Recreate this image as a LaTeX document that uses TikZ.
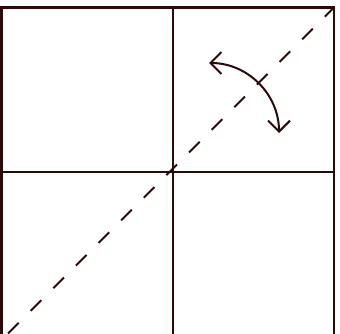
\documentclass[tikz,border=0pt]{standalone}
\usetikzlibrary{arrows.meta}
\definecolor{inkbrown}{RGB}{43,10,10}

\begin{document}
\begin{tikzpicture}[x=1pt,y=1pt,line width=2.2pt,draw=inkbrown,
  fold/.style={line width=2pt,dash pattern=on 15pt off 17pt,dash phase=2pt},
  flip/.style={line width=2pt,{Straight Barb[length=11pt,width=22pt]}-{Straight Barb[length=11pt,width=22pt]}}]
\useasboundingbox (0,0) rectangle (340,333);
\clip (0,0) rectangle (340,333);
% square sheet, cut at the bottom
\coordinate (tl) at (1.5,325.5);
\coordinate (tr) at (334,325.5);
\coordinate (bl) at (1.5,-4);
\coordinate (br) at (334,-4);
\draw (bl) -- (tl) -- (tr) -- (br);
% middle lines
\draw (173,325.5) -- (173,-4);
\draw (1.5,161) -- (334,161);
% fold line along the diagonal
\coordinate (far) at (-10,-18.5);
\draw[fold] (tr) -- (far);
% turning arrow
\draw[flip] (209,270) arc[start angle=90,end angle=0,radius=70];
\end{tikzpicture}
\end{document}
